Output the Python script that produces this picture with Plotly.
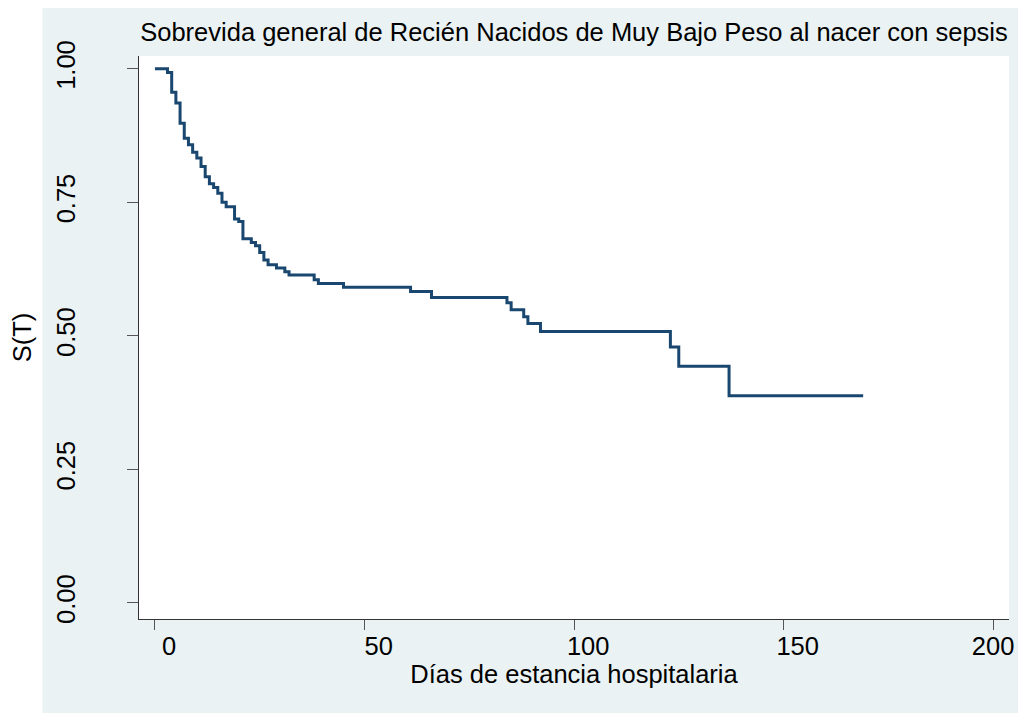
import plotly.graph_objects as go

# Kaplan-Meier survival estimates
tiempo = [0, 3, 4, 5, 6, 7, 8, 9, 10, 11, 12, 13, 14, 15, 16, 17,
          19, 20, 21, 23, 24, 25, 26, 27, 29, 31, 32,
          38, 39, 45, 61, 66,
          84, 85, 88, 89, 92,
          123, 125, 137, 169]
supervivencia = [1.0, 0.993, 0.956, 0.936, 0.898, 0.870, 0.858, 0.844, 0.833, 0.817, 0.798, 0.785, 0.778, 0.767, 0.750, 0.742,
                 0.719, 0.714, 0.682, 0.675, 0.669, 0.656, 0.642, 0.633, 0.627, 0.620, 0.614,
                 0.605, 0.598, 0.591, 0.583, 0.572,
                 0.562, 0.549, 0.536, 0.523, 0.508,
                 0.479, 0.443, 0.388, 0.388]

x_ticks = [0, 50, 100, 150, 200]
x_ticktext = ["0", "50", "100", "150", "200"]
y_ticks = [0.0, 0.25, 0.5, 0.75, 1.0]
y_ticktext = ["0.00", "0.25", "0.50", "0.75", "1.00"]
grid_vals = [0.25, 0.5, 0.75, 1.0]

titulo = "Sobrevida general de Recién Nacidos de Muy Bajo Peso al nacer con sepsis"
x_titulo = "Días de estancia hospitalaria"
y_titulo = "S(T)"

FONT = "Liberation Sans, Arial, sans-serif"
FS = 25.5
BG = "#EAF2F3"
LINE = "#1A476F"

# labels in the reference sit slightly right of their ticks (except the last one)
NB = "\u00a0" * 4
x_ticklabels = [NB + t if i < len(x_ticktext) - 1 else t for i, t in enumerate(x_ticktext)]

fig = go.Figure()
fig.add_trace(go.Scatter(
    x=tiempo, y=supervivencia, mode="lines", line_shape="hv",
    line=dict(color=LINE, width=3), showlegend=False, hoverinfo="x+y",
))

# page body has an 8px margin, so the figure is sized/offset accordingly
W, H = 1018, 705
L, R, T, B = 131, 13, 48, 94
pw, ph = W - L - R, H - T - B

# white strip on the left outside the graph region
shapes = [
    dict(type="rect", xref="paper", yref="paper", layer="below",
         x0=-L / pw - 0.05, x1=(34 - L) / pw, y0=-B / ph - 0.1, y1=1 + T / ph + 0.1,
         fillcolor="white", line=dict(width=0)),
]

yr = [-0.03, 1.024]
fig.update_layout(
    width=W, height=H,
    margin=dict(l=L, r=R, t=T, b=B),
    paper_bgcolor=BG, plot_bgcolor="white",
    font=dict(family=FONT, size=FS, color="black"),
    title=dict(text=titulo, x=0.5, xref="paper", xanchor="center", y=1 - 24 / H, yanchor="middle",
               font=dict(size=FS, family=FONT, color="black")),
    shapes=shapes,
    xaxis=dict(
        range=[-3.8, 203.8], tickvals=x_ticks, ticktext=x_ticklabels, ticks="outside",
        ticklen=10, tickwidth=1,
        tickcolor="#555555", showline=True, linecolor="#333333", linewidth=1,
        showgrid=False, zeroline=False, tickfont=dict(size=FS),
        ticklabelstandoff=-6,
        title=dict(text=x_titulo, font=dict(size=FS), standoff=4),
    ),
    yaxis=dict(
        range=yr, tickvals=y_ticks, ticktext=y_ticktext, ticks="outside", ticklen=11,
        tickwidth=1, tickcolor="#555555", showline=True, linecolor="#333333", linewidth=1,
        showgrid=False, zeroline=False, tickangle=-90, tickfont=dict(size=FS),
        ticklabelstandoff=42,
        title=dict(text=y_titulo, font=dict(size=FS), standoff=13),
    ),
    yaxis2=dict(
        overlaying="y", range=yr, tickvals=grid_vals, showticklabels=False, ticks="",
        showgrid=True, gridcolor="#E3ECEE", gridwidth=2, zeroline=False, showline=False,
    ),
)

fig.write_html("out.html")
